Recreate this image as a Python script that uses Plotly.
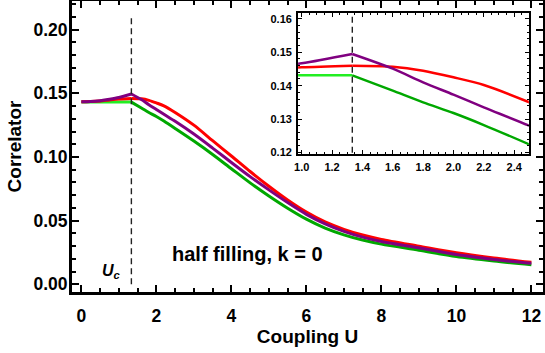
import plotly.graph_objects as go

# critical coupling
Uc = [4 / 3]

# U <= Uc
U_low = [0.0, 0.25, 0.5, 0.75, 1.0, 1.333]
red_low = [0.1433, 0.1435, 0.1440, 0.1448, 0.1455, 0.1460]
purple_low = [0.1433, 0.1435, 0.1442, 0.1453, 0.1467, 0.1495]
green_low = [0.1431, 0.1431, 0.1431, 0.1431, 0.1431, 0.1431]

# U >= Uc
U_high = [1.333, 1.6, 1.8, 2.0, 2.2, 2.5, 3.0, 3.5, 4.0, 4.5, 5.0, 5.5,
          6.0, 6.5, 7.0, 7.5, 8.0, 9.0, 10.0, 11.0, 12.0]
red_high = [0.1460, 0.1457, 0.1445, 0.1425, 0.1402, 0.1350, 0.1250, 0.1128,
            0.1008, 0.0886, 0.0770, 0.0662, 0.0567, 0.0490, 0.0432, 0.0387,
            0.0353, 0.0300, 0.0248, 0.0207, 0.0173]
purple_high = [0.1495, 0.1451, 0.1410, 0.1373, 0.1335, 0.1280, 0.1180, 0.1070,
               0.0957, 0.0846, 0.0742, 0.0642, 0.0550, 0.0475, 0.0416, 0.0371,
               0.0337, 0.0287, 0.0234, 0.0196, 0.0165]
green_high = [0.1431, 0.1385, 0.1350, 0.1318, 0.1282, 0.1224, 0.1125, 0.1020,
              0.0908, 0.0797, 0.0694, 0.0598, 0.0512, 0.0442, 0.0389, 0.0348,
              0.0316, 0.0268, 0.0218, 0.0183, 0.0154]

RED = "#ff0000"
PURPLE = "#800080"
GREEN = "#00a800"
LIME = "#22ee22"
FONT = "Liberation Sans"

fig = go.Figure()


def add_curves(xa, ya, width):
    series = [
        (U_low, green_low, LIME), (U_high, green_high, GREEN),
        (U_low, red_low, RED), (U_high, red_high, RED),
        (U_low, purple_low, PURPLE), (U_high, purple_high, PURPLE),
    ]
    for x, y, c in series:
        fig.add_trace(go.Scatter(
            x=x, y=y, mode="lines", xaxis=xa, yaxis=ya,
            line=dict(color=c, width=width, shape="spline", smoothing=0.8),
            showlegend=False, hoverinfo="skip"
        ))
    # Uc marker
    fig.add_trace(go.Scatter(
        x=Uc * 2, y=[0, 0.21], mode="lines", xaxis=xa, yaxis=ya,
        line=dict(color="#222222", width=1.4, dash="6px,4px"),
        showlegend=False, hoverinfo="skip"
    ))


add_curves("x", "y", 3)
add_curves("x2", "y2", 2.5)

frame = dict(showline=True, linecolor="black", mirror="allticks", automargin=False,
             ticks="inside", tickcolor="black", showgrid=False, zeroline=False)

fig.update_layout(
    width=545, height=353,
    margin=dict(l=72, r=2, t=1, b=61),
    paper_bgcolor="white", plot_bgcolor="white",
    font=dict(family=FONT, color="black"),
    xaxis=dict(
        **frame, range=[-0.25, 12.31], linewidth=3,
        tickvals=[0, 2, 4, 6, 8, 10, 12], ticklen=7, tickwidth=1.5,
        minor=dict(dtick=0.5, ticks="inside", ticklen=4, tickcolor="black"),
        tickfont=dict(size=17.5, family=FONT), ticklabelstandoff=6,
        title=dict(text="<b>Coupling U</b>", font=dict(size=19), standoff=4),
    ),
    yaxis=dict(
        **frame, range=[-0.006, 0.2225], linewidth=3,
        tickvals=[0, 0.05, 0.10, 0.15, 0.20], tickformat=".2f",
        ticklen=7, tickwidth=1.5,
        minor=dict(dtick=0.01, ticks="inside", ticklen=4, tickcolor="black"),
        tickfont=dict(size=17.5, family=FONT), ticklabelstandoff=-2,
        title=dict(text="<b>Correlator</b>", font=dict(size=19), standoff=7),
    ),
    xaxis2=dict(
        **frame, domain=[0.480, 0.970], anchor="y2", range=[0.976, 2.497],
        linewidth=2, tickvals=[1.0, 1.2, 1.4, 1.6, 1.8, 2.0, 2.2, 2.4],
        tickformat=".1f", ticklen=4,
        minor=dict(dtick=0.05, ticks="inside", ticklen=2, tickcolor="black"),
        tickfont=dict(size=11, family=FONT), ticklabelstandoff=2,
    ),
    yaxis2=dict(
        **frame, domain=[0.474, 0.959], anchor="x2", range=[0.1195, 0.1618],
        linewidth=2, tickvals=[0.12, 0.13, 0.14, 0.15, 0.16],
        tickformat=".2f", ticklen=4,
        minor=dict(dtick=0.002, ticks="inside", ticklen=2, tickcolor="black"),
        tickfont=dict(size=11, family=FONT), ticklabelstandoff=2,
    ),
)

# bold tick labels
for ax in ["xaxis", "yaxis", "xaxis2", "yaxis2"]:
    fig.layout[ax].tickfont.weight = "bold"

fig.add_annotation(x=4.42, y=0.0238, xref="x", yref="y", showarrow=False,
                   text="<b>half filling, k = 0</b>", font=dict(size=20))
fig.add_annotation(x=0.81, y=0.010, xref="x", yref="y", showarrow=False,
                   text="<b><i>U</i><sub><i>c</i></sub></b>", font=dict(size=16))

# drop the default page margin so the figure sits at the window's corner
fig.write_html("out.html", config={"displayModeBar": False},
               post_script="document.body.style.margin='0';")
